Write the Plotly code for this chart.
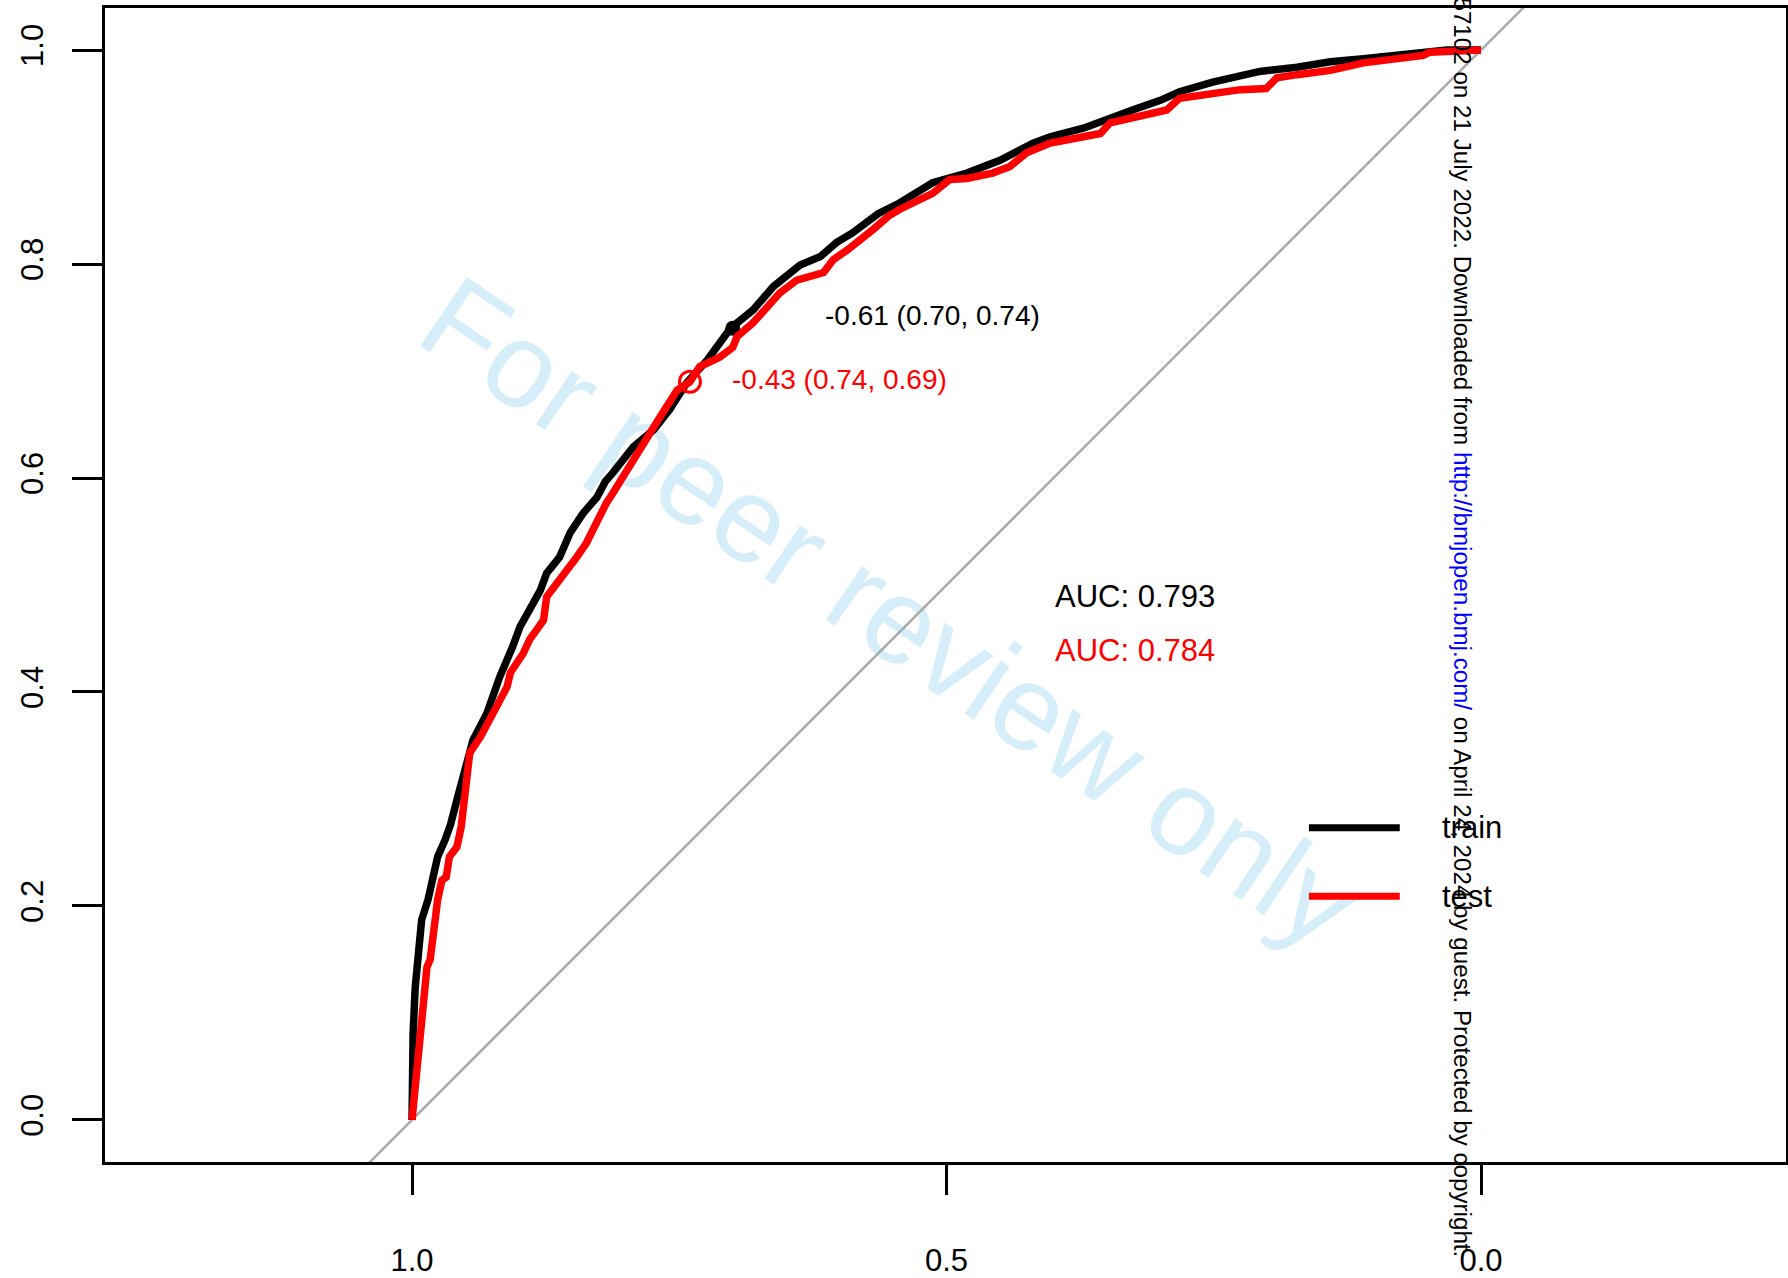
import plotly.graph_objects as go

# ROC curve of the training set (specificity, sensitivity)
train_spec = [1.000, 1.000, 0.999, 0.997, 0.994, 0.991, 0.985, 0.980, 0.976, 0.969,
              0.964, 0.958, 0.952, 0.943, 0.930, 0.918, 0.906, 0.899, 0.890, 0.880,
              0.874, 0.862, 0.852, 0.840, 0.827, 0.819, 0.812, 0.793, 0.774, 0.759,
              0.743, 0.724, 0.702, 0.681, 0.662, 0.637, 0.618, 0.603, 0.588, 0.564,
              0.544, 0.513, 0.481, 0.450, 0.419, 0.403, 0.372, 0.347, 0.326, 0.300,
              0.282, 0.251, 0.207, 0.172, 0.141, 0.110, 0.079, 0.048, 0.032, 0.000]
train_sens = [0.000, 0.035, 0.081, 0.124, 0.165, 0.187, 0.206, 0.231, 0.246, 0.262,
              0.276, 0.299, 0.324, 0.355, 0.380, 0.414, 0.442, 0.461, 0.477, 0.495,
              0.511, 0.526, 0.549, 0.567, 0.582, 0.597, 0.605, 0.629, 0.645, 0.664,
              0.689, 0.710, 0.740, 0.757, 0.779, 0.799, 0.807, 0.820, 0.829, 0.847,
              0.857, 0.876, 0.885, 0.897, 0.913, 0.919, 0.927, 0.937, 0.944, 0.953,
              0.961, 0.970, 0.980, 0.984, 0.989, 0.992, 0.995, 0.998, 1.000, 1.000]

# ROC curve of the test set (specificity, sensitivity)
test_spec = [1.000, 0.997, 0.994, 0.991, 0.986, 0.983, 0.980, 0.976, 0.972, 0.968,
             0.965, 0.958, 0.954, 0.949, 0.946, 0.936, 0.924, 0.911, 0.908, 0.896,
             0.890, 0.877, 0.874, 0.859, 0.846, 0.837, 0.827, 0.818, 0.812, 0.799,
             0.780, 0.768, 0.752, 0.740, 0.731, 0.712, 0.700, 0.696, 0.681, 0.668,
             0.656, 0.640, 0.631, 0.615, 0.606, 0.593, 0.569, 0.554, 0.544, 0.513,
             0.497, 0.481, 0.457, 0.441, 0.425, 0.403, 0.372, 0.356, 0.347, 0.326,
             0.294, 0.282, 0.251, 0.225, 0.201, 0.191, 0.172, 0.141, 0.110, 0.079,
             0.054, 0.048, 0.000]
test_sens = [0.000, 0.031, 0.075, 0.103, 0.143, 0.150, 0.175, 0.206, 0.224, 0.227,
             0.246, 0.255, 0.274, 0.318, 0.343, 0.358, 0.380, 0.405, 0.418, 0.436,
             0.449, 0.467, 0.489, 0.508, 0.526, 0.539, 0.561, 0.577, 0.586, 0.608,
             0.638, 0.657, 0.682, 0.690, 0.704, 0.713, 0.722, 0.732, 0.745, 0.760,
             0.773, 0.785, 0.788, 0.792, 0.804, 0.813, 0.832, 0.845, 0.851, 0.866,
             0.879, 0.880, 0.885, 0.891, 0.904, 0.913, 0.919, 0.922, 0.932, 0.937,
             0.944, 0.955, 0.960, 0.963, 0.964, 0.974, 0.977, 0.981, 0.988, 0.992,
             0.995, 0.998, 1.000]

# Best thresholds: (threshold, specificity, sensitivity)
train_thr = (-0.61, 0.70, 0.74)
test_thr = (-0.43, 0.74, 0.69)

train_auc = 0.793
test_auc = 0.784

series_names = ["train", "test"]
series_colors = ["#000000", "#FF0000"]

x_ticks = [1.0, 0.5, 0.0]
x_ticktext = ["1.0", "0.5", "0.0"]
y_ticks = [0.0, 0.2, 0.4, 0.6, 0.8, 1.0]

# chance line: sensitivity = 1 - specificity, spanning the whole panel
identity_spec = [1.6, -0.6]
identity_sens = [1 - s for s in identity_spec]

FONT = "Liberation Sans, Arial, sans-serif"
W, H = 1788, 1278
L, R, T, B = 105, 2, 8, 116


def px_to_paper(px, py):
    return (px - L) / (W - L - R), (H - B - py) / (H - T - B)


fig = go.Figure()

fig.add_trace(go.Scatter(x=identity_spec, y=identity_sens, mode="lines",
                         line=dict(color="#A9A9A9", width=2.5),
                         hoverinfo="skip", showlegend=False))

fig.add_trace(go.Scatter(x=train_spec, y=train_sens, mode="lines", name=series_names[0],
                         line=dict(color=series_colors[0], width=7.5),
                         showlegend=False))
fig.add_trace(go.Scatter(x=[train_thr[1]], y=[train_thr[2]], mode="markers",
                         marker=dict(symbol="circle", size=15, color=series_colors[0]),
                         showlegend=False))

fig.add_trace(go.Scatter(x=test_spec, y=test_sens, mode="lines", name=series_names[1],
                         line=dict(color=series_colors[1], width=7.5),
                         showlegend=False))
fig.add_trace(go.Scatter(x=[test_thr[1]], y=[test_thr[2]], mode="markers",
                         marker=dict(symbol="circle-open", size=21, color=series_colors[1],
                                     line=dict(color=series_colors[1], width=3)),
                         showlegend=False))

annotations = []

# threshold labels
for thr, col, dx, dy in [(train_thr, series_colors[0], 90, 13),
                         (test_thr, series_colors[1], 40, 2)]:
    annotations.append(dict(
        x=thr[1], y=thr[2], xref="x", yref="y",
        text=f"{thr[0]:.2f} ({thr[1]:.2f}, {thr[2]:.2f})",
        showarrow=False, xanchor="left", yanchor="middle",
        xshift=dx, yshift=dy,
        font=dict(family=FONT, size=28, color=col)))

# AUC labels
for auc, col, yy in [(train_auc, series_colors[0], 0.489),
                     (test_auc, series_colors[1], 0.439)]:
    annotations.append(dict(
        x=0.4, y=yy, xref="x", yref="y", text=f"AUC: {auc:.3f}",
        showarrow=False, xanchor="left", yanchor="middle",
        font=dict(family=FONT, size=31, color=col)))

# legend
shapes = []
for name, col, yy in [(series_names[0], series_colors[0], 0.273),
                      (series_names[1], series_colors[1], 0.209)]:
    shapes.append(dict(type="line", xref="x", yref="y", x0=0.161, x1=0.076,
                       y0=yy, y1=yy, line=dict(color=col, width=7)))
    annotations.append(dict(
        x=0.038, y=yy, xref="x", yref="y", text=name, showarrow=False,
        xanchor="left", yanchor="middle",
        font=dict(family=FONT, size=31, color="#000000")))

# watermark, kept underneath the curves
wx, wy = px_to_paper(896, 603)
shapes.append(dict(
    type="rect", xref="paper", yref="paper",
    x0=wx - 0.005, x1=wx + 0.005, y0=wy - 0.005, y1=wy + 0.005,
    line=dict(width=0), fillcolor="rgba(0,0,0,0)", layer="below",
    label=dict(text="For peer review only", textangle=34,
               textposition="middle center",
               font=dict(family=FONT, size=121, color="#D5EEFA"))))

# vertical download notice
cx, cy = px_to_paper(1463, 1259)
annotations.append(dict(
    x=cx, y=cy, xref="paper", yref="paper", textangle=90,
    xanchor="center", yanchor="bottom", showarrow=False,
    text=("BMJ Open: first published as 10.1136/bmjopen-2021-057102 on 21 July 2022. "
          "Downloaded from <span style='color:#0000FF'>http://bmjopen.bmj.com/</span> "
          "on April 24, 2024 by guest. Protected by copyright."),
    font=dict(family=FONT, size=24.2, color="#000000")))

axis_common = dict(
    showline=True, linewidth=3, linecolor="#000000", mirror=True,
    ticks="outside", ticklen=30, tickwidth=3, tickcolor="#000000",
    showgrid=False, zeroline=False, automargin=False,
    tickfont=dict(family=FONT, size=31, color="#000000"),
)

fig.update_layout(
    template="none",
    width=W, height=H,
    margin=dict(l=L, r=R, t=T, b=B, pad=0),
    paper_bgcolor="#FFFFFF", plot_bgcolor="rgba(0,0,0,0)",
    font=dict(family=FONT, color="#000000"),
    showlegend=False,
    xaxis=dict(range=[1.2872, -0.2853], tickvals=x_ticks, ticktext=x_ticktext,
               ticklabelstandoff=39, **axis_common),
    yaxis=dict(range=[-0.0393, 1.0393], tickvals=y_ticks, tickformat=".1f",
               tickangle=-90, ticklabelstandoff=17, **axis_common),
    shapes=shapes,
    annotations=annotations,
)

fig.write_html("out.html")
